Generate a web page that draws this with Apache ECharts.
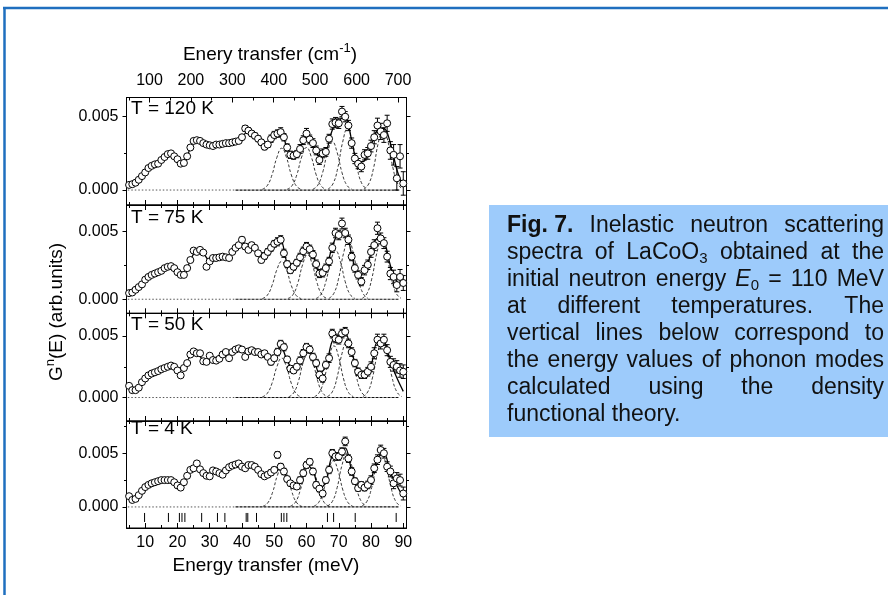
<!DOCTYPE html>
<html>
<head>
<meta charset="utf-8">
<script src="https://cdn.jsdelivr.net/npm/echarts@6/dist/echarts.min.js"></script>
<style>
html, body { margin: 0; padding: 0; background: #fff; }
#chart { width: 888px; height: 595px; }
</style>
</head>
<body>
<div id="chart"></div>
<script>
// ---------------------------------------------------------------
// Data (intensities in units of 1e-3, energies in meV)
// ---------------------------------------------------------------
const energy = [5,6,7,8,9,10,11,12,13,14,15,16,17,18,19,20,21,22,23,24,25,26,27,28,29,30,31,32,33,34,35,36,37,38,39,40,41,42,43,44,45,46,47,48,49,50,51,52,53,54,55,56,57,58,59,60,61,62,63,64,65,66,67,68,69,70,71,72,73,74,75,76,77,78,79,80,81,82,83,84,85,86,87,88,89,90];

const g120 = [0.35,0.4,0.5,0.7,0.95,1.2,1.5,1.65,1.75,1.8,
  2.05,2.25,2.45,2.5,2.3,2.1,1.8,1.85,2.3,2.9,
  3.35,3.4,3.35,3.2,3.1,3.05,3.0,3.1,3.1,3.15,
  3.2,3.2,3.25,3.3,3.35,3.6,4.2,4.05,3.85,3.7,
  3.5,3.25,2.95,3.1,3.5,3.75,3.85,3.95,3.6,2.9,
  2.4,2.35,2.45,2.8,3.4,3.85,3.45,3.2,2.7,2.05,
  2.5,2.6,3.5,4.5,4.6,4.55,5.35,5.0,4.4,3.2,
  2.15,1.8,1.6,2.4,2.5,3.0,3.6,4.4,4.0,3.75,
  4.55,2.7,2.4,0.8,2.3,0.45];
const g75 = [0.45,0.5,0.7,0.9,1.1,1.45,1.65,1.8,1.9,2.0,
  2.1,2.3,2.4,2.45,2.3,2.0,1.8,1.8,2.3,2.9,
  3.6,3.5,3.65,3.45,2.4,2.8,3.05,3.05,3.1,3.15,
  3.1,3.05,3.5,3.8,4.0,4.4,3.9,3.65,4.0,3.8,
  3.4,2.9,3.2,3.5,3.8,4.1,4.25,4.4,3.4,2.6,
  2.15,2.4,2.7,3.1,3.55,3.9,3.7,3.3,2.6,1.9,
  1.95,2.3,2.8,3.8,4.9,4.75,5.6,4.9,4.4,3.15,
  2.3,1.8,1.3,2.15,2.55,3.5,4.0,5.25,4.5,4.15,
  3.15,1.9,1.65,1.05,1.65,1.2];
const g50 = [0.95,0.6,0.6,0.8,1.25,1.55,1.8,1.95,2.05,2.15,
  2.3,2.4,2.5,2.6,2.5,2.2,1.8,2.4,2.8,3.5,
  3.75,3.6,3.6,2.95,2.9,3.4,3.05,3.0,3.15,3.5,
  3.7,3.2,3.7,3.9,4.0,3.9,3.3,3.75,3.85,3.7,
  3.7,3.5,3.6,3.3,2.9,3.2,3.7,4.35,4.1,3.1,
  2.35,2.2,2.5,3.0,3.6,4.1,3.9,3.3,2.8,1.85,
  1.55,2.65,3.2,5.2,4.8,4.7,5.2,5.35,4.4,3.7,
  2.8,2.1,1.85,1.85,2.1,2.5,3.6,4.7,4.4,4.7,
  3.85,2.9,2.65,2.5,2.2,2.1];
const g4 = [1.0,0.65,0.75,1.1,1.5,1.85,2.05,2.2,2.3,2.4,
  2.5,2.5,2.5,2.5,2.3,2.0,1.8,2.3,2.9,3.45,
  3.6,4.05,3.5,3.15,2.9,2.85,3.4,3.3,3.15,3.0,
  3.4,3.7,3.85,3.95,4.05,3.75,3.6,3.9,3.9,3.75,
  3.45,3.05,2.85,3.0,3.2,3.45,4.85,3.75,3.3,2.6,
  2.2,2.0,1.9,2.5,3.15,3.9,4.2,3.3,2.05,1.7,
  1.25,2.5,3.45,5.0,4.7,4.7,5.15,6.1,4.5,3.3,
  2.4,1.75,2.05,1.8,2.05,2.5,3.6,4.4,5.3,5.0,
  3.75,3.3,2.2,2.65,2.5,1.25];

const err120 = [0.1,0.1,0.1,0.1,0.1,0.1,0.1,0.1,0.1,0.1,
  0.1,0.1,0.1,0.1,0.1,0.1,0.1,0.1,0.1,0.1,
  0.1,0.1,0.1,0.1,0.1,0.1,0.1,0.1,0.1,0.1,
  0.1,0.1,0.1,0.1,0.1,0.15,0.2,0.2,0.2,0.2,
  0.2,0.2,0.2,0.2,0.25,0.25,0.25,0.3,0.25,0.25,
  0.25,0.25,0.25,0.3,0.3,0.35,0.3,0.3,0.3,0.3,
  0.3,0.3,0.3,0.35,0.35,0.35,0.35,0.35,0.35,0.35,
  0.35,0.35,0.35,0.35,0.4,0.4,0.45,0.5,0.55,0.5,
  0.55,0.6,0.7,0.8,0.8,0.8];
const err75 = [0.1,0.1,0.1,0.1,0.1,0.1,0.1,0.1,0.1,0.1,
  0.1,0.1,0.1,0.1,0.1,0.1,0.1,0.1,0.1,0.1,
  0.1,0.1,0.1,0.1,0.1,0.1,0.1,0.1,0.1,0.1,
  0.1,0.1,0.1,0.1,0.1,0.2,0.2,0.2,0.2,0.2,
  0.2,0.2,0.25,0.25,0.25,0.25,0.3,0.3,0.3,0.25,
  0.25,0.25,0.25,0.3,0.3,0.3,0.3,0.3,0.3,0.3,
  0.3,0.3,0.3,0.35,0.35,0.35,0.4,0.35,0.35,0.3,
  0.3,0.3,0.3,0.35,0.35,0.4,0.4,0.45,0.4,0.4,
  0.4,0.45,0.5,0.5,0.55,0.55];
const err50 = [0.1,0.1,0.1,0.1,0.1,0.1,0.1,0.1,0.1,0.1,
  0.1,0.1,0.1,0.1,0.1,0.1,0.1,0.1,0.1,0.1,
  0.1,0.1,0.1,0.1,0.1,0.1,0.1,0.1,0.1,0.1,
  0.1,0.1,0.1,0.1,0.1,0.2,0.2,0.2,0.2,0.2,
  0.2,0.2,0.2,0.2,0.25,0.25,0.3,0.3,0.3,0.25,
  0.25,0.25,0.25,0.3,0.3,0.3,0.3,0.3,0.3,0.3,
  0.3,0.3,0.35,0.35,0.35,0.35,0.35,0.35,0.35,0.35,
  0.3,0.3,0.3,0.3,0.35,0.4,0.45,0.45,0.45,0.45,
  0.45,0.45,0.5,0.5,0.55,0.55];
const err4 = [0.1,0.1,0.1,0.1,0.1,0.1,0.1,0.1,0.1,0.1,
  0.1,0.1,0.1,0.1,0.1,0.1,0.1,0.1,0.1,0.1,
  0.1,0.1,0.1,0.1,0.1,0.1,0.1,0.1,0.1,0.1,
  0.1,0.1,0.1,0.1,0.1,0.2,0.2,0.2,0.2,0.2,
  0.2,0.2,0.2,0.25,0.25,0.25,0.3,0.3,0.3,0.25,
  0.25,0.25,0.25,0.3,0.3,0.3,0.3,0.3,0.3,0.3,
  0.3,0.3,0.35,0.35,0.35,0.35,0.35,0.4,0.35,0.35,
  0.3,0.3,0.3,0.3,0.35,0.4,0.4,0.45,0.45,0.45,
  0.45,0.5,0.5,0.55,0.55,0.6];

// fitted total curves
const fitEnergy = [5,6,8,10,12,14,16,18,20,22,24,26,28,30,32,34,36,38,40,42,44,46,48,50,52,54,56,58,60,62,64,66,68,70,72,74,76,78,80,82,84,86,88,90];
const fit120 = [0.35,0.4,0.7,1.2,1.6,1.85,2.25,2.45,2.1,1.9,2.85,3.35,3.2,3.05,3.05,3.15,3.2,3.3,3.65,4.0,3.7,3.2,3.2,3.75,3.9,2.9,2.4,2.9,3.6,3.2,2.3,2.6,4.1,4.7,5.0,3.4,1.9,2.0,3.0,4.1,4.2,3.2,1.4,0.2];
const fit75 = [0.45,0.5,0.9,1.4,1.8,2.0,2.25,2.45,2.05,1.85,2.9,3.55,3.4,2.85,3.05,3.1,3.15,3.75,4.2,3.8,3.8,3.1,3.45,4.05,4.3,2.7,2.35,3.05,3.8,3.3,2.0,2.3,3.9,4.9,5.0,3.3,1.8,2.0,3.4,4.5,4.3,2.5,1.3,1.1];
const fit50 = [0.8,0.6,0.85,1.55,1.95,2.15,2.4,2.6,2.2,2.3,3.4,3.6,3.1,3.2,3.05,3.45,3.4,3.85,3.85,3.7,3.7,3.55,3.25,3.2,4.2,3.0,2.25,3.0,3.95,3.4,2.0,2.5,4.6,4.85,5.2,3.7,2.2,1.9,2.6,4.5,4.5,2.9,1.6,0.5];
const fit4 = [0.9,0.65,1.1,1.85,2.2,2.4,2.5,2.5,2.0,2.3,3.4,3.8,3.15,2.9,3.3,3.1,3.65,3.95,3.8,3.85,3.75,3.1,3.0,3.45,3.75,2.6,2.0,2.55,3.9,3.4,1.7,2.3,4.7,4.8,5.5,3.4,1.9,1.9,2.6,4.5,5.0,3.2,2.0,0.9];

// individual phonon peak components [E, intensity]
const peaks120 = [
  [[46.3,0.05],[47.8,0.29],[49.3,1.03],[50.8,2.21],[52.3,2.85],[53.8,2.21],[55.3,1.03],[56.8,0.29],[58.3,0.05]],
  [[54,0.05],[55.5,0.29],[57,1.04],[58.5,2.25],[60,2.9],[61.5,2.25],[63,1.04],[64.5,0.29],[66,0.05]],
  [[62,0.06],[63.5,0.33],[65,1.19],[66.5,2.56],[68,3.3],[69.5,2.56],[71,1.19],[72.5,0.33],[74,0.06]],
  [[66.7,0.07],[68.2,0.42],[69.7,1.51],[71.2,3.26],[72.7,4.2],[74.2,3.26],[75.7,1.51],[77.2,0.42],[78.7,0.07]],
  [[77.8,0.07],[79.3,0.42],[80.8,1.51],[82.3,3.26],[83.8,4.2],[85.3,3.26],[86.8,1.51],[88.3,0.42],[89.8,0.07]]
];
const peaks75 = [
  [[46.3,0.05],[47.8,0.28],[49.3,1.01],[50.8,2.17],[52.3,2.8],[53.8,2.17],[55.3,1.01],[56.8,0.28],[58.3,0.05]],
  [[54.3,0.06],[55.8,0.33],[57.3,1.19],[58.8,2.56],[60.3,3.3],[61.8,2.56],[63.3,1.19],[64.8,0.33],[66.3,0.06]],
  [[63,0.06],[64.5,0.36],[66,1.3],[67.5,2.79],[69,3.6],[70.5,2.79],[72,1.3],[73.5,0.36],[75,0.06]],
  [[67,0.07],[68.5,0.44],[70,1.58],[71.5,3.41],[73,4.4],[74.5,3.41],[76,1.58],[77.5,0.44],[79,0.07]],
  [[77.3,0.07],[78.8,0.44],[80.3,1.58],[81.8,3.41],[83.3,4.4],[84.8,3.41],[86.3,1.58],[87.8,0.44],[89.3,0.07]]
];
const peaks50 = [
  [[46.3,0.05],[47.8,0.32],[49.3,1.15],[50.8,2.48],[52.3,3.2],[53.8,2.48],[55.3,1.15],[56.8,0.32],[58.3,0.05]],
  [[54.5,0.06],[56,0.37],[57.5,1.33],[59,2.87],[60.5,3.7],[62,2.87],[63.5,1.33],[65,0.37],[66.5,0.06]],
  [[62.5,0.07],[64,0.42],[65.5,1.51],[67,3.26],[68.5,4.2],[70,3.26],[71.5,1.51],[73,0.42],[74.5,0.07]],
  [[66.5,0.08],[68,0.46],[69.5,1.66],[71,3.57],[72.5,4.6],[74,3.57],[75.5,1.66],[77,0.46],[78.5,0.08]],
  [[77.5,0.08],[79,0.46],[80.5,1.66],[82,3.57],[83.5,4.6],[85,3.57],[86.5,1.66],[88,0.46],[89.5,0.08]]
];
const peaks4 = [
  [[46.5,0.06],[48,0.38],[49.5,1.37],[51,2.95],[52.5,3.8],[54,2.95],[55.5,1.37],[57,0.38],[58.5,0.06]],
  [[55,0.07],[56.5,0.41],[58,1.48],[59.5,3.18],[61,4.1],[62.5,3.18],[64,1.48],[65.5,0.41],[67,0.07]],
  [[62.3,0.07],[63.8,0.43],[65.3,1.55],[66.8,3.33],[68.3,4.3],[69.8,3.33],[71.3,1.55],[72.8,0.43],[74.3,0.07]],
  [[66.5,0.09],[68,0.5],[69.5,1.8],[71,3.88],[72.5,5.0],[74,3.88],[75.5,1.8],[77,0.5],[78.5,0.09]],
  [[77.2,0.09],[78.7,0.5],[80.2,1.8],[81.7,3.88],[83.2,5.0],[84.7,3.88],[86.2,1.8],[87.7,0.5],[89.2,0.09]]
];

// zero line pieces (E ranges)
const zeroLine = [[4.6, 38], [38, 88.5]];

// DFT phonon mode energies (meV)
const modes = [9.8,17.2,20.6,21.4,22.3,27.5,32.4,34.7,41.3,41.8,44.5,52.2,53.0,53.9,66.5,68.4,75.1,87.8];

const temperatures = ['T = 120 K', 'T = 75 K', 'T = 50 K', 'T = 4 K'];

// tick labels
const meVMajor = [10,20,30,40,50,60,70,80,90];
const meVMinor = [5,15,25,35,45,55,65,75,85];
const cmMajor = [100,200,300,400,500,600,700];
const cmMinor = [50,150,250,350,450,550,650];
const yMajor = [0, 5];
const yMinor = [2.5, 7.5];

// ---------------------------------------------------------------
// Layout
// ---------------------------------------------------------------
const FONT = '"Liberation Sans", Arial, Helvetica, sans-serif';
const E_MIN = 4.2, E_MAX = 91;
const K_MIN = 44.5, K_MAX = 720.5;
const PLOT_LEFT = 126.5, PLOT_WIDTH = 280;
const MODE_TOP = -0.56, MODE_BOTTOM = -1.40;

const panels = [
  { data: g120, err: err120, fit: fit120, peaks: peaks120, top: 97.5, height: 107.5, ymin: -1.02, ymax: 6.31, labelY: 108.5 },
  { data: g75,  err: err75,  fit: fit75,  peaks: peaks75,  top: 205,  height: 108.3, ymin: -1.04, ymax: 6.97, labelY: 218 },
  { data: g50,  err: err50,  fit: fit50,  peaks: peaks50,  top: 313.3, height: 107.7, ymin: -1.91, ymax: 6.85, labelY: 325 },
  { data: g4,   err: err4,   fit: fit4,   peaks: peaks4,   top: 421,  height: 107,   ymin: -1.96, ymax: 8.0,  labelY: 428.5 }
];

function xAxisDef(grid, pos, min, max, ticks, len, labels, line) {
  return {
    type: 'value', gridIndex: grid, position: pos, min: min, max: max,
    axisLine: { show: line, onZero: false, lineStyle: { color: '#000', width: 1 } },
    axisTick: { show: true, inside: true, length: len, customValues: ticks, lineStyle: { color: '#000', width: 1 } },
    axisLabel: labels ? { show: true, customValues: labels, color: '#000', fontFamily: FONT, fontSize: 16, margin: pos === 'top' ? 9 : 7 } : { show: false },
    splitLine: { show: false }, minorTick: { show: false }, minorSplitLine: { show: false }
  };
}
function yAxisDef(grid, pos, min, max, ticks, len, labels, line) {
  return {
    type: 'value', gridIndex: grid, position: pos, min: min, max: max,
    axisLine: { show: line, onZero: false, lineStyle: { color: '#000', width: 1 } },
    axisTick: { show: true, inside: false, length: len, customValues: ticks, lineStyle: { color: '#000', width: 1 } },
    axisLabel: labels ? { show: true, customValues: labels, formatter: v => (v / 1000).toFixed(3), color: '#000', fontFamily: FONT, fontSize: 16, margin: 8 } : { show: false },
    splitLine: { show: false }
  };
}

const option = { animation: false, backgroundColor: '#fff', grid: [], xAxis: [], yAxis: [], series: [], graphic: [] };

panels.forEach((p, i) => {
  const base = { left: PLOT_LEFT, width: PLOT_WIDTH, top: p.top, height: p.height, outerBoundsMode: 'none', containLabel: false };
  option.grid.push(Object.assign({ show: true, borderColor: '#000', borderWidth: 1, backgroundColor: 'transparent' }, base));
  option.grid.push(Object.assign({ show: false }, base));
  const main = 2 * i, over = 2 * i + 1;
  const first = i === 0, last = i === panels.length - 1;
  const yMin = yMinor.filter(v => v > p.ymin && v < p.ymax);

  // x axes: bottom major, top major, bottom minor, top minor
  option.xAxis.push(xAxisDef(main, 'bottom', E_MIN, E_MAX, meVMajor, 5, last ? meVMajor : null, true));
  option.xAxis.push(first
    ? xAxisDef(main, 'top', K_MIN, K_MAX, cmMajor, 5, cmMajor, true)
    : xAxisDef(main, 'top', E_MIN, E_MAX, meVMajor, 5, null, true));
  option.xAxis.push(xAxisDef(over, 'bottom', E_MIN, E_MAX, meVMinor, 3, null, false));
  option.xAxis.push(first
    ? xAxisDef(over, 'top', K_MIN, K_MAX, cmMinor, 3, null, false)
    : xAxisDef(over, 'top', E_MIN, E_MAX, meVMinor, 3, null, false));

  // y axes: left major, right major, left minor, right minor
  option.yAxis.push(yAxisDef(main, 'left', p.ymin, p.ymax, yMajor, 4, yMajor, true));
  option.yAxis.push(yAxisDef(main, 'right', p.ymin, p.ymax, yMajor, 4, null, true));
  option.yAxis.push(yAxisDef(over, 'left', p.ymin, p.ymax, yMin, 2.5, null, false));
  option.yAxis.push(yAxisDef(over, 'right', p.ymin, p.ymax, yMin, 2.5, null, false));

  const ax = { xAxisIndex: 4 * i, yAxisIndex: 4 * i };

  // zero baseline
  option.series.push(Object.assign({
    type: 'line', data: [[zeroLine[0][0], 0], [zeroLine[0][1], 0]], symbol: 'none', silent: true, z: 1,
    lineStyle: { color: '#555', width: 1, type: [1.5, 2] }
  }, ax));
  option.series.push(Object.assign({
    type: 'line', data: [[zeroLine[1][0], 0], [zeroLine[1][1], 0]], symbol: 'none', silent: true, z: 1,
    lineStyle: { color: '#111', width: 1.2, type: [3, 1] }
  }, ax));

  // peak components
  p.peaks.forEach(pk => {
    option.series.push(Object.assign({
      type: 'line', data: pk, smooth: 0.5, symbol: 'none', silent: true, z: 2,
      lineStyle: { color: '#222', width: 0.9, type: [3, 2] }
    }, ax));
  });

  // total fit
  option.series.push(Object.assign({
    type: 'line', data: fitEnergy.map((e, k) => [e, p.fit[k]]), smooth: 0.35, symbol: 'none', silent: true, z: 3,
    lineStyle: { color: '#000', width: 1.3 }
  }, ax));

  // error bars
  option.series.push(Object.assign({
    type: 'custom', silent: true, z: 4,
    data: energy.map((e, k) => [e, p.data[k], p.err[k]]),
    encode: { x: 0, y: 1 },
    renderItem: function (params, api) {
      const x = api.value(0), y = api.value(1), e = api.value(2);
      const hi = api.coord([x, y + e]), lo = api.coord([x, y - e]);
      const w = 2.5, st = { stroke: '#000', lineWidth: 1 };
      return { type: 'group', children: [
        { type: 'line', shape: { x1: hi[0], y1: hi[1], x2: lo[0], y2: lo[1] }, style: st },
        { type: 'line', shape: { x1: hi[0] - w, y1: hi[1], x2: hi[0] + w, y2: hi[1] }, style: st },
        { type: 'line', shape: { x1: lo[0] - w, y1: lo[1], x2: lo[0] + w, y2: lo[1] }, style: st }
      ] };
    }
  }, ax));

  // measured points
  option.series.push(Object.assign({
    type: 'scatter', data: energy.map((e, k) => [e, p.data[k]]), symbol: 'circle', symbolSize: 7, silent: true, z: 5,
    itemStyle: { color: '#fff', borderColor: '#000', borderWidth: 1, opacity: 1 }
  }, ax));

  // DFT mode markers in the lowest panel
  if (last) {
    option.series.push(Object.assign({
      type: 'custom', silent: true, z: 4, data: modes.map(m => [m]),
      encode: { x: 0 },
      renderItem: function (params, api) {
        const e = api.value(0);
        const a = api.coord([e, MODE_TOP]), b = api.coord([e, MODE_BOTTOM]);
        return { type: 'line', shape: { x1: a[0], y1: a[1], x2: b[0], y2: b[1] }, style: { stroke: '#000', lineWidth: 1 } };
      }
    }, ax));
  }

  // temperature label
  option.graphic.push({ type: 'text', x: 131, y: p.labelY, silent: true,
    style: { text: temperatures[i], font: '19px ' + FONT, fill: '#000', align: 'left', verticalAlign: 'middle' } });
});

// ---------------------------------------------------------------
// Text helpers
// ---------------------------------------------------------------
const mctx = document.createElement('canvas').getContext('2d');
function textWidth(str, font) { mctx.font = font; return mctx.measureText(str).width; }
function pieces(parts, x0, y) {
  let x = x0; const els = [];
  parts.forEach(pt => {
    els.push({ type: 'text', x: x, y: y + (pt.dy || 0), silent: true,
      style: { text: pt.t, font: pt.font, fill: pt.fill || '#000', align: 'left', verticalAlign: 'middle' } });
    x += textWidth(pt.t, pt.font);
  });
  return { els: els, width: x - x0 };
}
function centeredRun(parts, cx, cy, rotation) {
  const probe = pieces(parts, 0, 0);
  const run = pieces(parts, -probe.width / 2, 0);
  return { type: 'group', x: cx, y: cy, rotation: rotation || 0, children: run.els, silent: true };
}

const T19 = '19px ' + FONT, S13 = '13px ' + FONT;
option.graphic.push(centeredRun([
  { t: 'Enery transfer (cm', font: T19 }, { t: '-1', font: S13, dy: -7 }, { t: ')', font: T19 }
], 270, 55));
option.graphic.push(centeredRun([{ t: 'Energy transfer (meV)', font: T19 }], 266, 566));
option.graphic.push(centeredRun([
  { t: 'G', font: T19 }, { t: 'n', font: S13, dy: -7 }, { t: '(E) (arb.units)', font: T19 }
], 57, 312, Math.PI / 2));

// outer frame
option.graphic.push({ type: 'line', silent: true, shape: { x1: 3, y1: 8, x2: 888, y2: 8 }, style: { stroke: '#1f6fbf', lineWidth: 2.5 } });
option.graphic.push({ type: 'line', silent: true, shape: { x1: 4.5, y1: 7, x2: 4.5, y2: 595 }, style: { stroke: '#1f6fbf', lineWidth: 2.5 } });

// caption box
const CAP = 23;
const capFonts = {
  n: CAP + 'px ' + FONT,
  b: 'bold ' + CAP + 'px ' + FONT,
  i: 'italic ' + CAP + 'px ' + FONT,
  sub: '15px ' + FONT
};
const captionLines = [
  [[['Fig. 7.', 'b']], ['Inelastic'], ['neutron'], ['scattering']],
  [['spectra'], ['of'], ['LaCoO', ['3', 'sub']], ['obtained'], ['at'], ['the']],
  [['initial'], ['neutron'], ['energy'], [['E', 'i'], ['0', 'sub']], ['='], ['110'], ['MeV']],
  [['at'], ['different'], ['temperatures.'], ['The']],
  [['vertical'], ['lines'], ['below'], ['correspond'], ['to']],
  [['the'], ['energy'], ['values'], ['of'], ['phonon'], ['modes']],
  [['calculated'], ['using'], ['the'], ['density']],
  [['functional'], ['theory.']]
];
const CAP_LEFT = 507, CAP_RIGHT = 884, CAP_Y0 = 226, CAP_STEP = 27;

option.graphic.push({ type: 'rect', silent: true, shape: { x: 489, y: 205, width: 399, height: 232 }, style: { fill: '#9dcbfb' }, z: -1 });

captionLines.forEach((line, li) => {
  const words = line.map(w => w.map(part => {
    const t = typeof part === 'string' ? part : part[0];
    const s = typeof part === 'string' ? 'n' : part[1];
    return { t: t, font: capFonts[s], dy: s === 'sub' ? 6 : 0, fill: '#111' };
  }));
  const widths = words.map(w => pieces(w, 0, 0).width);
  const total = widths.reduce((a, b) => a + b, 0);
  const justify = li < captionLines.length - 1 && words.length > 1;
  const gap = justify ? (CAP_RIGHT - CAP_LEFT - total) / (words.length - 1) : textWidth(' ', capFonts.n);
  let x = CAP_LEFT;
  const y = CAP_Y0 + li * CAP_STEP;
  words.forEach((w, k) => {
    pieces(w, x, y).els.forEach(el => option.graphic.push(el));
    x += widths[k] + gap;
  });
});

const chart = echarts.init(document.getElementById('chart'), null, { renderer: 'canvas' });
chart.setOption(option);
</script>
</body>
</html>
